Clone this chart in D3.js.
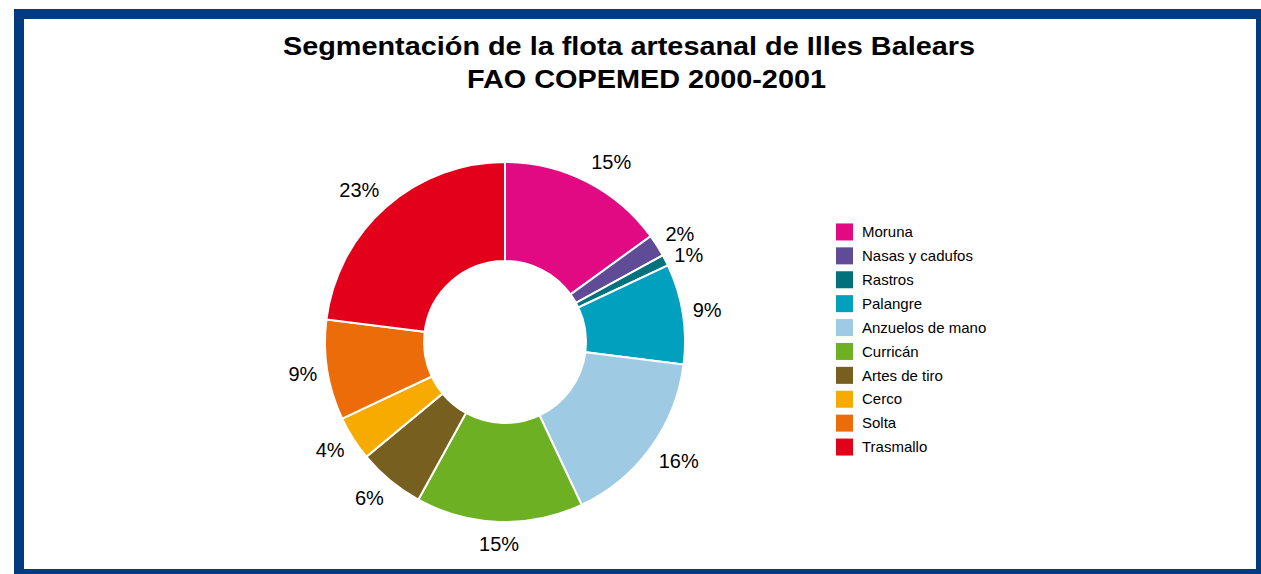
<!DOCTYPE html>
<html>
<head>
<meta charset="utf-8">
<script src="https://cdn.jsdelivr.net/npm/d3@7"></script>
<style>
    body { margin: 0; background: #fff; }
    svg { display: block; font-family: "Liberation Sans", Arial, sans-serif; }
</style>
</head>
<body>
<div class="pie-container"></div>
<script>
// Data
const categories = ['Moruna', 'Nasas y cadufos', 'Rastros', 'Palangre', 'Anzuelos de mano',
    'Curricán', 'Artes de tiro', 'Cerco', 'Solta', 'Trasmallo'];
const shares = [15, 2, 1, 9, 16, 15, 6, 4, 9, 23];
const colors = ['#e20a83', '#5f4b96', '#00727b', '#00a0be', '#9ecbe3',
    '#6db024', '#765f1f', '#f7ab00', '#ec6c0a', '#e2001a'];
const titleLines = ['Segmentación de la flota artesanal de Illes Balears', 'FAO COPEMED 2000-2001'];

const svg_width = 1261;
const svg_height = 574;

const svg = d3.select('.pie-container').append('svg')
    .attr('width', svg_width).attr('height', svg_height);

// frame
svg.append('rect')
    .attr('x', 19).attr('y', 14)
    .attr('width', 1242).attr('height', 560)
    .attr('fill', '#fff')
    .attr('stroke', '#003a80').attr('stroke-width', 10);

// title (the original font is a bit wider than Liberation Sans, so stretch it)
svg.append('text').text(titleLines[0])
    .attr('x', 283).attr('y', 55)
    .attr('textLength', 692).attr('lengthAdjust', 'spacingAndGlyphs')
    .style('font-size', '26px').style('font-weight', 'bold');
svg.append('text').text(titleLines[1])
    .attr('x', 467).attr('y', 88)
    .attr('textLength', 359).attr('lengthAdjust', 'spacingAndGlyphs')
    .style('font-size', '26px').style('font-weight', 'bold');

const pieData = categories.map((c, i) => ({ name: c, value: shares[i], color: colors[i] }));

const pie = d3.pie().value(d => d.value).sort(null);
const arcs = pie(pieData);
const arc = d3.arc().innerRadius(81).outerRadius(180);

const donut = svg.append('g').attr('transform', 'translate(505, 342)');

donut.selectAll('.slice')
    .data(arcs)
    .enter()
    .append('path')
    .attr('class', 'slice')
    .attr('d', arc)
    .attr('fill', d => d.data.color)
    .attr('stroke', '#fff')
    .attr('stroke-width', 2);

// labels sit just outside the ring, anchored away from the centre
const labelR = 190;
const lineH = 21;
const midAngle = d => (d.startAngle + d.endAngle) / 2;
const labels = arcs.map(d => {
    const a = midAngle(d);
    const s = Math.sin(a);
    return {
        text: `${d.data.value}%`,
        x: labelR * s,
        y: -(labelR + 12) * Math.cos(a),
        anchor: Math.abs(s) < 0.3 ? 'middle' : (s > 0 ? 'start' : 'end'),
        side: s >= 0 ? 'right' : 'left'
    };
});
// push apart labels that would collide (small slices next to each other)
let prevRight = null;
labels.filter(l => l.side === 'right').forEach(l => {
    if (prevRight !== null && l.y < prevRight + lineH) l.y = prevRight + lineH;
    prevRight = l.y;
});
let prevLeft = null;
labels.filter(l => l.side === 'left').forEach(l => {
    if (prevLeft !== null && l.y > prevLeft - lineH) l.y = prevLeft - lineH;
    prevLeft = l.y;
});

donut.selectAll('.label')
    .data(labels)
    .enter()
    .append('text')
    .attr('class', 'label')
    .attr('x', d => d.x)
    .attr('y', d => d.y)
    .attr('text-anchor', d => d.anchor)
    .attr('dy', '0.35em')
    .style('font-size', '20px')
    .text(d => d.text);

// legend
const legendY = d3.scaleBand().domain(categories).range([220, 459]);
const legend = svg.append('g').attr('class', 'legend');
const rows = legend.selectAll('.row')
    .data(pieData)
    .enter()
    .append('g')
    .attr('class', 'row')
    .attr('transform', d => `translate(836, ${legendY(d.name)})`);
rows.append('rect')
    .attr('width', 17).attr('height', 17)
    .attr('y', (legendY.bandwidth() - 17) / 2)
    .attr('fill', d => d.color);
rows.append('text')
    .attr('x', 26).attr('y', legendY.bandwidth() / 2)
    .attr('dy', '0.35em')
    .style('font-size', '15px')
    .text(d => d.name);
</script>
</body>
</html>
